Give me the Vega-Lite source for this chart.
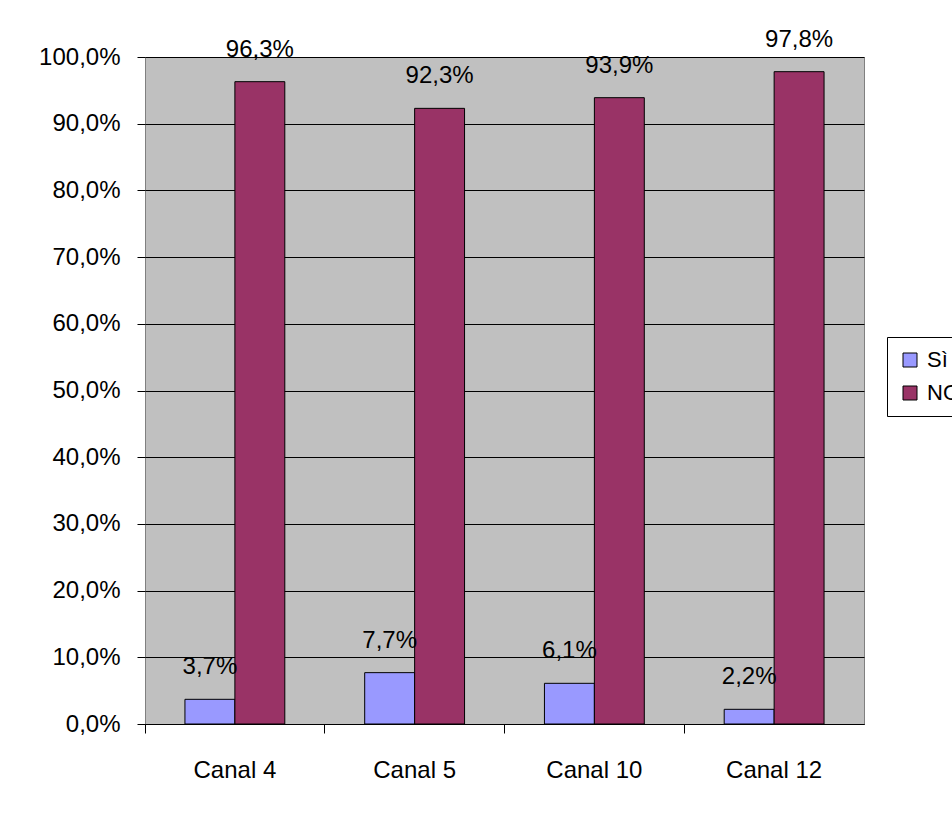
{
  "$schema": "https://vega.github.io/schema/vega-lite/v6.json",
  "autosize": "none",
  "width": 719,
  "height": 667,
  "padding": {"left": 145, "top": 57, "right": 88, "bottom": 97},
  "background": "white",
  "config": {
    "locale": {"number": {"decimal": ",", "thousands": ".", "grouping": [3], "currency": ["€", ""]}},
    "font": "Liberation Sans",
    "view": {"fill": "#C0C0C0", "stroke": "#808080", "strokeWidth": 1}
  },
  "data": {
    "values": [
      {"canal": "Canal 4", "risposta": "Sì", "valore": 0.037},
      {"canal": "Canal 4", "risposta": "NO", "valore": 0.963},
      {"canal": "Canal 5", "risposta": "Sì", "valore": 0.077},
      {"canal": "Canal 5", "risposta": "NO", "valore": 0.923},
      {"canal": "Canal 10", "risposta": "Sì", "valore": 0.061},
      {"canal": "Canal 10", "risposta": "NO", "valore": 0.939},
      {"canal": "Canal 12", "risposta": "Sì", "valore": 0.022},
      {"canal": "Canal 12", "risposta": "NO", "valore": 0.978}
    ]
  },
  "encoding": {
    "x": {
      "field": "canal", "type": "nominal", "sort": ["Canal 4", "Canal 5", "Canal 10", "Canal 12"],
      "scale": {"paddingInner": 0, "paddingOuter": 0},
      "axis": {
        "title": null, "labelAngle": 0, "labelFontSize": 24, "labelColor": "black",
        "labelPadding": 37, "labelBaseline": "middle",
        "tickSize": 9, "tickColor": "black", "bandPosition": 0,
        "domainColor": "black", "grid": false
      }
    },
    "xOffset": {
      "field": "risposta", "type": "nominal", "sort": ["Sì", "NO"],
      "scale": {"paddingInner": 0, "paddingOuter": 0.8}
    },
    "y": {
      "field": "valore", "type": "quantitative",
      "scale": {"domain": [0, 1], "nice": false},
      "axis": {
        "title": null, "format": ".1%", "values": [0, 0.1, 0.2, 0.3, 0.4, 0.5, 0.6, 0.7, 0.8, 0.9, 1.0],
        "labelFontSize": 24, "labelColor": "black", "labelPadding": 17,
        "tickSize": 8, "tickColor": "black", "domain": false,
        "grid": true, "gridColor": "black", "gridOpacity": 1, "gridWidth": 1
      }
    }
  },
  "layer": [
    {
      "mark": {"type": "bar", "stroke": "black", "strokeWidth": 1},
      "encoding": {
        "color": {
          "field": "risposta", "type": "nominal",
          "scale": {"domain": ["Sì", "NO"], "range": ["#9999FF", "#993366"]},
          "legend": {
            "title": null, "orient": "none", "legendX": 742, "legendY": 280,
            "strokeColor": "black", "fillColor": "white", "padding": 12,
            "symbolType": "square", "symbolSize": 196, "symbolStrokeColor": "black",
            "symbolStrokeWidth": 1, "symbolOpacity": 1,
            "labelFontSize": 22, "labelColor": "black", "labelOffset": 6, "rowPadding": 11
          }
        }
      }
    },
    {
      "mark": {"type": "text", "fontSize": 24, "color": "black", "baseline": "alphabetic", "dy": -25},
      "encoding": {
        "text": {"field": "valore", "type": "quantitative", "format": ".1%"}
      }
    }
  ]
}
